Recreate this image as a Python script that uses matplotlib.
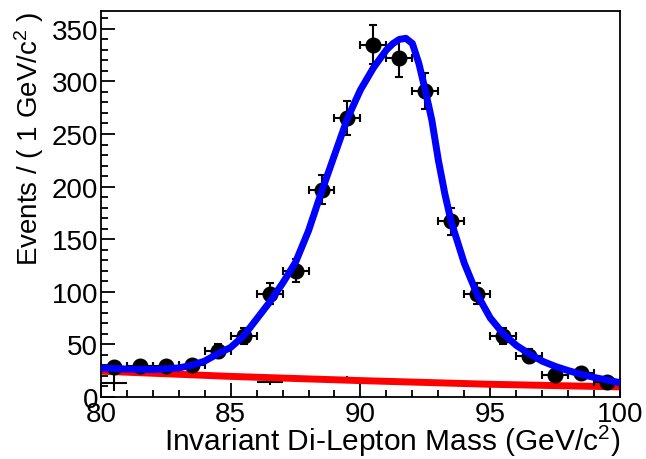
import numpy as np
import matplotlib
matplotlib.use('Agg')
import matplotlib.pyplot as plt
from matplotlib.ticker import MultipleLocator

plt.rcParams['font.family'] = ['Liberation Sans', 'DejaVu Sans']
plt.rcParams['mathtext.fontset'] = 'custom'
plt.rcParams['mathtext.rm'] = 'Liberation Sans'
plt.rcParams['mathtext.it'] = 'Liberation Sans:italic'

# binned data (1 GeV bins)
bin_centers = [80.5, 81.5, 82.5, 83.5, 84.5, 85.5, 86.5, 87.5, 88.5, 89.5,
               90.5, 91.5, 92.5, 93.5, 94.5, 95.5, 96.5, 97.5, 98.5, 99.5]
data_counts = [28, 29, 29, 30, 44, 58, 98, 120, 197, 265,
               335, 322, 291, 167, 98, 58, 39, 21, 23, 14]

# background sample (mostly hidden under the red curve)
bkg_counts = [13.5, 23, 22, 21, 20, 19.1, 14.5, 17.5, 16.7, 16.5,
              15.2, 14.5, 13.8, 13.1, 12.4, 11.8, 11.3, 10.8, 10.3, 9.8]
bkg_err = [7.5, 1.5, 1.5, 1.5, 1.5, 1.5, 3, 1.5, 1.5, 3.5,
           1.5, 1.5, 1.5, 1.5, 1.5, 1.5, 1.5, 1.5, 1.5, 1.5]

# total fit curve
fit_x = [80.0, 81.0, 82.0, 83.0, 83.5, 84.0, 84.5, 85.0, 85.5, 86.0,
         86.5, 87.0, 87.5, 88.0, 88.5, 89.0, 89.5, 90.0, 90.5, 91.0,
         91.25, 91.5, 91.75, 92.0, 92.25, 92.5, 92.75, 93.0, 93.25, 93.5,
         94.0, 94.5, 95.0, 95.5, 96.0, 96.5, 97.0, 97.5, 98.0, 98.5,
         99.0, 99.5, 100.0]
fit_y = [27.5, 26.5, 26, 27.5, 30, 34, 41, 47, 58, 74,
         90, 108, 128, 158, 195, 230, 265, 292, 313, 330,
         336, 340, 341, 336, 317, 291, 263, 225, 193, 166,
         127, 97, 75, 60, 49, 41, 34, 29, 25, 21.5,
         18.5, 16, 13.5]

# background component of the fit
bkg_fit_x = [80, 85, 90, 95, 100]
bkg_fit_y = [24.5, 19.5, 15.5, 12, 9.5]

fig = plt.figure(figsize=(6.46, 4.6), dpi=100)
ax = fig.add_axes([0.156, 0.135, 0.804, 0.839])

xerr = 0.5
ax.errorbar(bin_centers, bkg_counts, xerr=xerr, yerr=bkg_err, fmt='none',
            ecolor='black', elinewidth=1.5, capsize=0, zorder=1)
ax.plot(bkg_fit_x, bkg_fit_y, color='#ff0000', lw=5, zorder=2,
        solid_capstyle='butt')
ax.errorbar(bin_centers, data_counts, xerr=xerr, yerr=np.sqrt(data_counts),
            fmt='o', color='black', ms=10.5, elinewidth=1.5, capsize=3,
            capthick=1.5, zorder=3)
ax.plot(fit_x, fit_y, color='#0000ff', lw=5, zorder=4,
        solid_joinstyle='round', solid_capstyle='butt')

ax.set_xlim(80, 100)
ax.set_ylim(0, 367)
ax.xaxis.set_major_locator(MultipleLocator(5))
ax.xaxis.set_minor_locator(MultipleLocator(1))
ax.yaxis.set_major_locator(MultipleLocator(50))
ax.yaxis.set_minor_locator(MultipleLocator(10))
ax.tick_params(which='both', direction='in', top=False, right=False,
               width=1.3, labelsize=20)
ax.tick_params(which='major', length=10)
ax.tick_params(which='minor', length=5)
ax.tick_params(axis='x', pad=3)
ax.tick_params(axis='y', pad=2)
for s in ax.spines.values():
    s.set_linewidth(1.3)

ax.set_xlabel('Invariant Di-Lepton Mass (GeV/c$^{2}$)', fontsize=21.5,
              loc='right', labelpad=-3)
ax.set_ylabel('Events / ( 1 GeV/c$^{2}$ )', fontsize=20, loc='top',
              labelpad=4)

fig.savefig('out.png', dpi=100)
